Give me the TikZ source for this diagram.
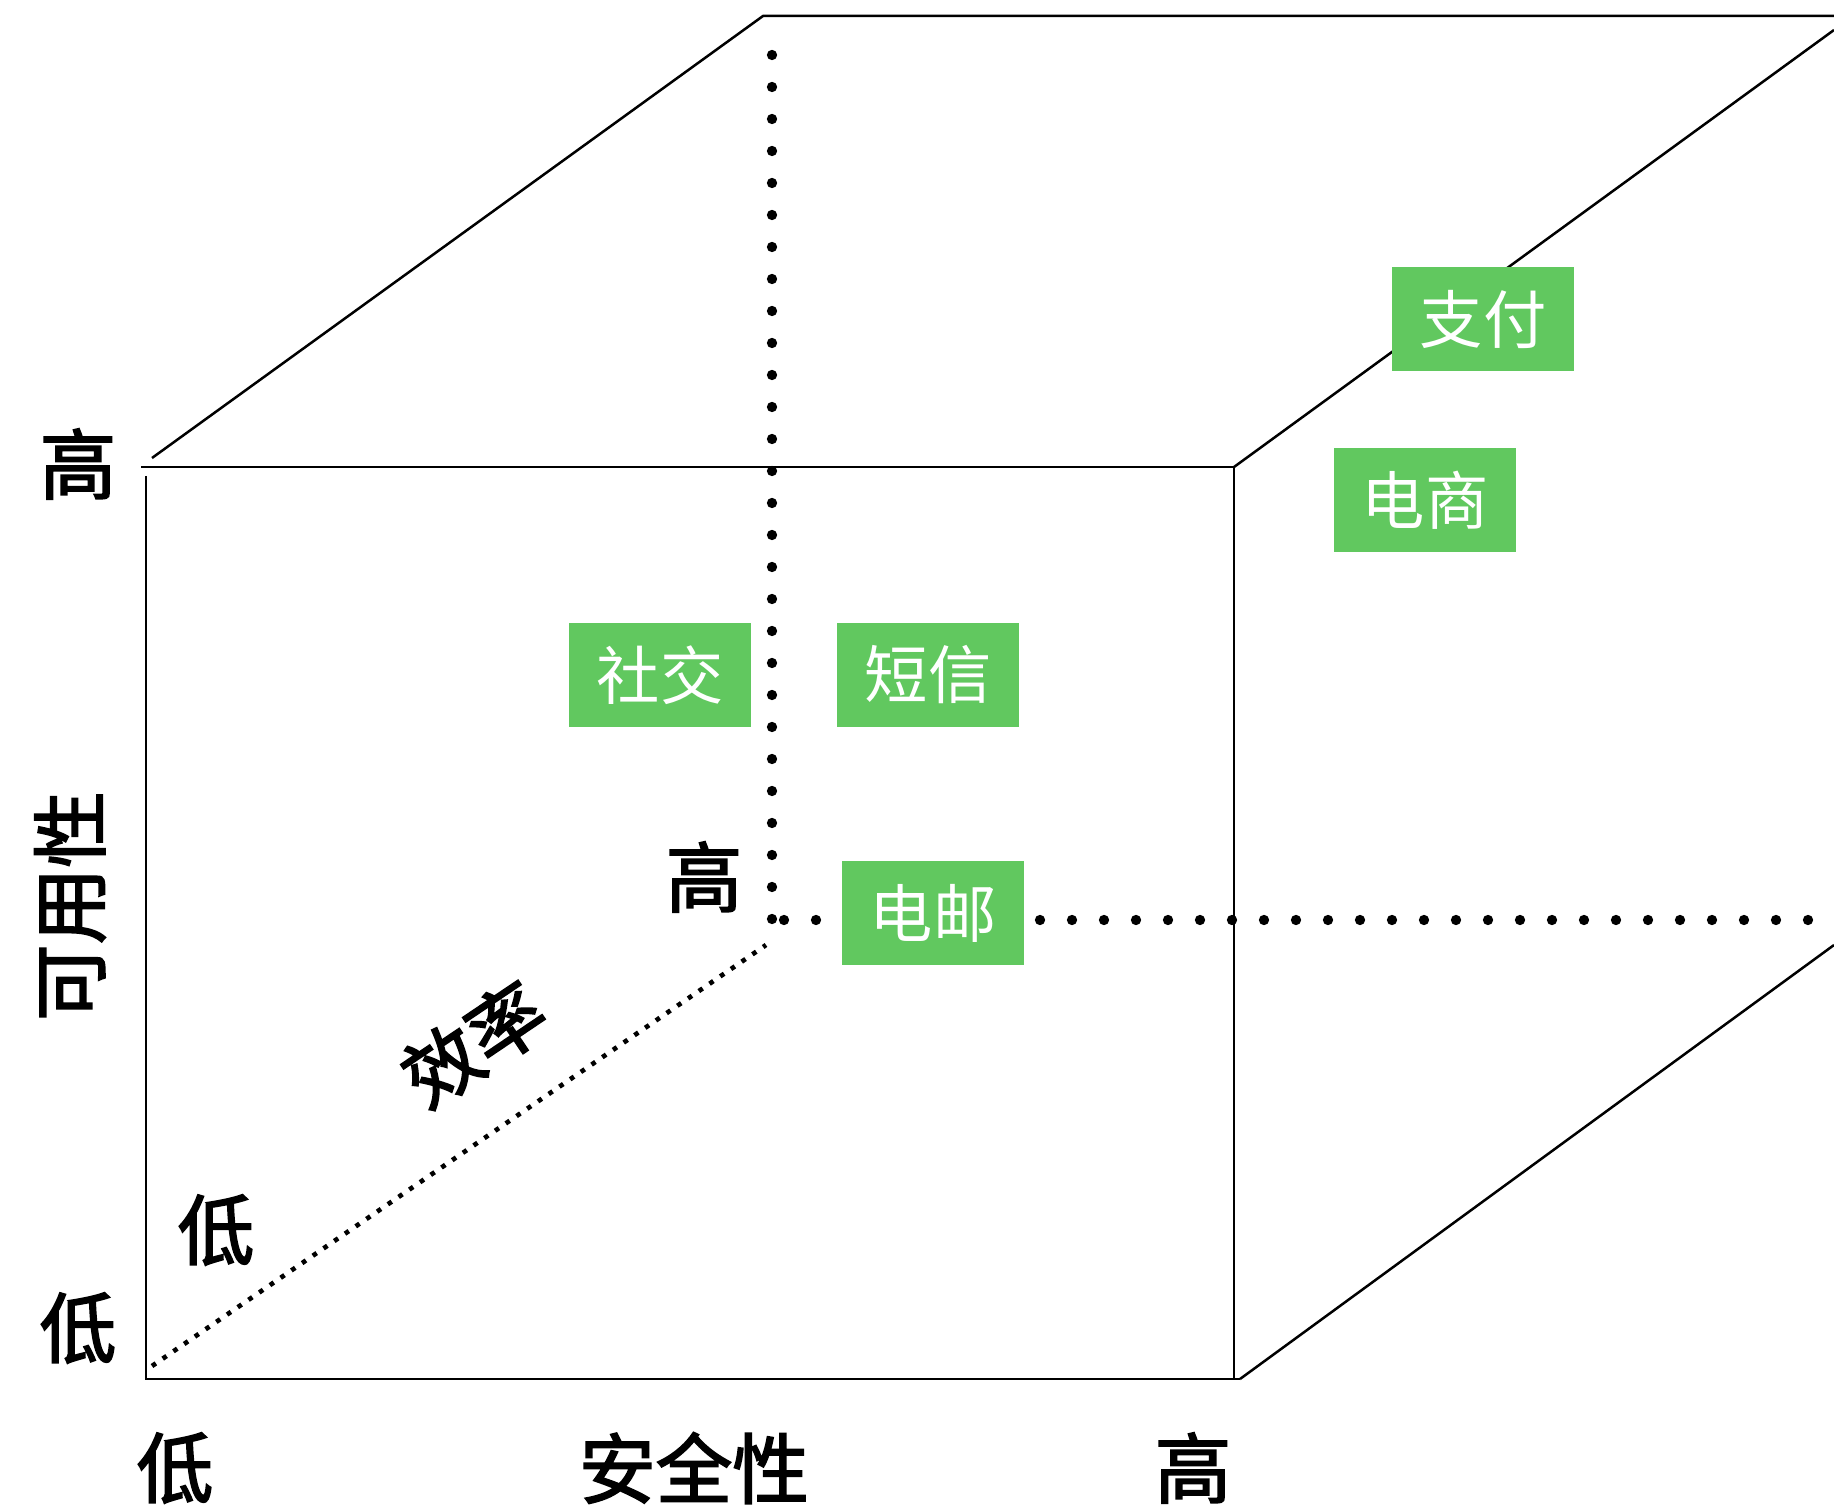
\documentclass[tikz,border=0pt]{standalone}
\usepackage{fontspec}
\newfontfamily\cjk{Noto Sans CJK SC}
\newfontfamily\cjkmed{Noto Sans CJK SC}[FakeBold=2.2]
\definecolor{boxgreen}{RGB}{97,200,95}
\begin{document}
\begin{tikzpicture}[x=0.3pt,y=-0.3pt,
  edge/.style={line width=0.75pt,black},
  bigdots/.style={line width=3.1pt,line cap=round,dash pattern=on 0pt off 9.6pt},
  smalldots/.style={line width=1.4pt,dash pattern=on 1.4pt off 2.5pt},
  tag/.style={fill=boxgreen,text=white,minimum width=54.6pt,minimum height=31pt,inner sep=0pt,font=\cjk\fontsize{19}{19}\selectfont},
  lab/.style={inner sep=0pt,font=\cjkmed\fontsize{23}{23}\selectfont}]
\useasboundingbox (0,0) rectangle (1834,1510);
% cube corners
\coordinate (ftl) at (141,467);
\coordinate (ftr) at (1234,467);
\coordinate (fbl) at (146,1379);
\coordinate (fbr) at (1240,1379);
\coordinate (lvt) at (146,476);
\coordinate (rvb) at (1234,1379);
\coordinate (ldl) at (152,458);
\coordinate (btl) at (763,16);
\coordinate (btr) at (1834,16);
\coordinate (rdt) at (1834,30);
\coordinate (brt) at (1834,945);
\coordinate (vd1) at (772,55);
\coordinate (vd2) at (772,920);
\coordinate (hd1) at (784,920);
\coordinate (hd2) at (1809,920);
\coordinate (sd1) at (152,1366);
\coordinate (sd2) at (766,945);
% edges
\draw[edge] (ftl) -- (ftr);
\draw[edge] (lvt) -- (fbl) -- (fbr);
\draw[edge] (ftr) -- (rvb);
\draw[edge] (ldl) -- (btl) -- (btr);
\draw[edge] (ftr) -- (rdt);
\draw[edge] (fbr) -- (brt);
% dotted axes
\draw[bigdots] (vd1) -- (vd2);
\draw[bigdots] (hd1) -- (hd2);
\draw[smalldots] (sd1) -- (sd2);
% green tags
\node[tag] (shejiao) at (660,675) {社交};
\node[tag] (duanxin) at (928,675) {短信};
\node[tag] (dianyou) at (933,913) {电邮};
\node[tag] (dianshang) at (1425,500) {电商};
\node[tag] (zhifu) at (1483,319) {支付};
% labels
\node[lab] (yhigh) at (78,464) {高};
\node[lab,rotate=90] (yaxis) at (70,906) {可用性};
\node[lab] (ylow) at (78,1328) {低};
\node[lab] (xlow) at (175,1468) {低};
\node[lab] (xaxis) at (694,1468) {安全性};
\node[lab] (xhigh) at (1193,1468) {高};
\node[lab] (zhigh) at (704,877) {高};
\node[lab] (zlow) at (216,1230) {低};
\node[lab,rotate=34] (zaxis) at (474,1044) {效率};
\end{tikzpicture}
\end{document}
